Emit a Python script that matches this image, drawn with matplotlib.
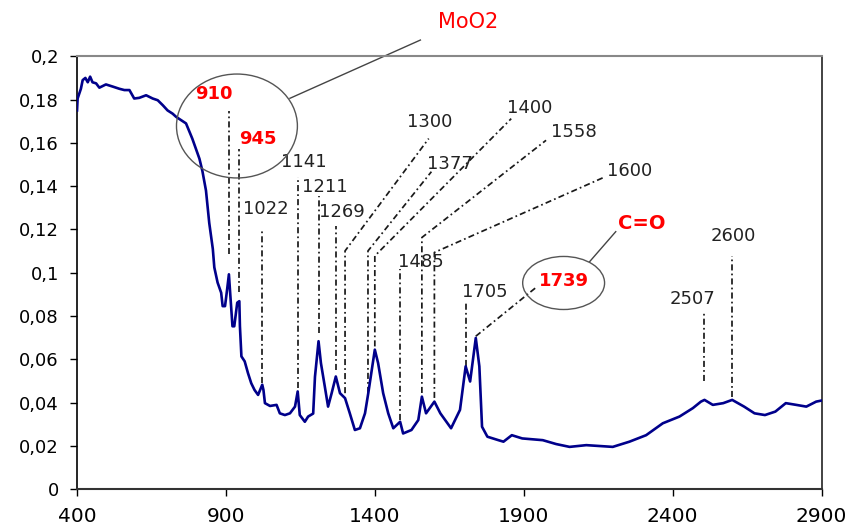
import numpy as np
import matplotlib
matplotlib.use("Agg")
import matplotlib.pyplot as plt
from matplotlib.patches import Ellipse
from matplotlib.ticker import FuncFormatter

# IR spectrum, wavenumber (cm-1) vs absorbance
wavenumber = [400, 402, 413, 419, 428, 436, 444, 452, 464, 475, 497, 520, 542, 559,
              576, 592, 609, 632, 654, 671, 688, 704, 721, 733, 766, 787, 811, 821,
              833, 844, 856, 861, 872, 884, 889, 897, 904, 910, 915, 922, 928, 938,
              945, 947, 952, 963, 974, 985, 996, 1008, 1022, 1026, 1031, 1048, 1070,
              1081, 1098, 1115, 1132, 1141, 1148, 1165, 1176, 1193, 1199, 1211, 1219,
              1232, 1243, 1255, 1269, 1283, 1300, 1316, 1333, 1350, 1367, 1378, 1400,
              1411, 1428, 1445, 1462, 1485, 1495, 1523, 1546, 1558, 1572, 1600, 1620,
              1656, 1686, 1705, 1720, 1739, 1751, 1760, 1778, 1815, 1832, 1860, 1895,
              1964, 2009, 2054, 2110, 2199, 2255, 2311, 2367, 2423, 2468, 2495, 2507,
              2535, 2570, 2600, 2640, 2675, 2710, 2745, 2780, 2815, 2849, 2882, 2900]
absorbance = [0.175, 0.1805, 0.185, 0.189, 0.19, 0.188, 0.1906, 0.188, 0.1875, 0.1855,
              0.187, 0.186, 0.185, 0.1844, 0.1844, 0.1805, 0.1808, 0.182, 0.1805, 0.1797,
              0.1774, 0.175, 0.1735, 0.172, 0.169, 0.162, 0.1527, 0.147, 0.138, 0.123,
              0.111, 0.1025, 0.0955, 0.0908, 0.0846, 0.0846, 0.0923, 0.0993, 0.0892,
              0.0753, 0.0753, 0.0862, 0.0869, 0.0753, 0.0614, 0.0591, 0.0537, 0.049,
              0.0459, 0.0436, 0.0483, 0.0459, 0.0398, 0.0385, 0.039, 0.0351, 0.0343,
              0.0351, 0.0382, 0.0452, 0.0343, 0.0312, 0.0336, 0.035, 0.052, 0.0684,
              0.0583, 0.0475, 0.0382, 0.0444, 0.0521, 0.0444, 0.0421, 0.0351, 0.0274,
              0.0282, 0.0351, 0.0444, 0.0645, 0.0583, 0.0444, 0.0351, 0.0282, 0.0312,
              0.0258, 0.0274, 0.032, 0.0428, 0.0351, 0.0405, 0.0351, 0.0282, 0.0367,
              0.0568, 0.0498, 0.0699, 0.0568, 0.0289, 0.0243, 0.0227, 0.022, 0.025,
              0.0235, 0.0227, 0.0209, 0.0196, 0.0204, 0.0196, 0.022, 0.025, 0.0305,
              0.0336, 0.0375, 0.0405, 0.0413, 0.039, 0.0398, 0.0413, 0.0382, 0.0351,
              0.0343, 0.0359, 0.0398, 0.039, 0.0382, 0.0405, 0.041]

x_ticks = [400, 900, 1400, 1900, 2400, 2900]
y_ticks = [0, 0.02, 0.04, 0.06, 0.08, 0.1, 0.12, 0.14, 0.16, 0.18, 0.2]

# straight leaders: band, line bottom, line top, label x, label y, red?
straight_peaks = [
    (910, 0.1086, 0.1745, 858, 0.1828, True),
    (945, 0.0910, 0.1573, 1006, 0.1620, True),
    (1022, 0.0492, 0.1194, 1033, 0.1295, False),
    (1141, 0.0469, 0.1443, 1163, 0.1513, False),
    (1211, 0.0724, 0.1356, 1233, 0.1397, False),
    (1269, 0.0552, 0.1217, 1288, 0.1280, False),
    (1485, 0.0320, 0.1016, 1556, 0.1049, False),
    (1705, 0.0568, 0.0863, 1769, 0.0910, False),
    (2507, 0.0498, 0.0817, 2468, 0.0877, False),
    (2600, 0.0428, 0.1078, 2603, 0.1169, False),
]
# bent leaders: band, line bottom, knee y, end x, end y, label x, label y, red?
bent_peaks = [
    (1300, 0.0444, 0.1101, 1581, 0.1620, 1583, 0.1698, False),
    (1377, 0.0445, 0.1101, 1590, 0.1467, 1651, 0.1503, False),
    (1400, 0.0660, 0.1078, 1858, 0.1712, 1919, 0.1759, False),
    (1558, 0.0445, 0.1163, 1975, 0.1612, 2069, 0.1652, False),
    (1600, 0.0422, 0.1094, 2171, 0.1442, 2255, 0.1471, False),
    (1739, 0.0707, 0.0707, 1942, 0.0933, 2036, 0.0961, True),
]

plt.rcParams['font.family'] = ['DejaVu Sans']

fig = plt.figure(figsize=(8.53, 5.31), dpi=100)
ax = fig.add_axes([0.0903, 0.0785, 0.8728, 0.8155])

ax.plot(wavenumber, absorbance, color='#00008b', lw=1.9, zorder=3)

ax.set_xlim(400, 2900)
ax.set_ylim(0, 0.2)
ax.set_xticks(x_ticks)
ax.set_yticks(y_ticks)
ax.yaxis.set_major_formatter(FuncFormatter(lambda v, p: f"{v:g}".replace('.', ',')))
ax.tick_params(axis='y', direction='out', length=5, width=1, pad=8, labelsize=13)
ax.tick_params(axis='x', direction='out', length=5, width=1, pad=8, labelsize=14.5)

ax.spines['left'].set_color('black')
ax.spines['left'].set_linewidth(1.2)
ax.spines['bottom'].set_color('#333333')
ax.spines['bottom'].set_linewidth(1.5)
ax.spines['top'].set_color('#888888')
ax.spines['top'].set_linewidth(1.5)
ax.spines['right'].set_color('#222222')
ax.spines['right'].set_linewidth(1.2)

dash = (0, (3.5, 1.8, 1.0, 1.8))
lead_col = '#1a1a1a'


def label(x, y, s, red):
    if red:
        ax.text(x, y, s, color='#ff0000', fontsize=13, fontweight='bold',
                ha='center', va='center')
    else:
        ax.text(x, y, s, color='#222222', fontsize=13, ha='center', va='center')


for band, y0, y1, tx, ty, red in straight_peaks:
    ax.plot([band, band], [y0, y1], color=lead_col, lw=1.25, linestyle=dash, zorder=2)
    label(tx, ty, str(band), red)

for band, y0, yk, ex, ey, tx, ty, red in bent_peaks:
    ax.plot([band, band, ex], [y0, yk, ey], color=lead_col, lw=1.25,
            linestyle=dash, zorder=2)
    label(tx, ty, str(band), red)

# circled groups with their assignment
ax.add_patch(Ellipse((937, 0.1678), 406, 0.048, fill=False,
                     edgecolor='#555555', lw=1.0, zorder=4))
ax.add_patch(Ellipse((2034, 0.0953), 275, 0.0245, fill=False,
                     edgecolor='#555555', lw=1.0, zorder=4))
ax.plot([1115, 1553], [0.1806, 0.2075], color='#444444', lw=1.0, clip_on=False)
ax.text(1712, 0.216, 'MoO2', color='#ff0000', fontsize=15, ha='center', va='center')
ax.plot([2121, 2209], [0.1051, 0.119], color='#444444', lw=1.0)
ax.text(2296, 0.123, 'C=O', color='#ff0000', fontsize=14, fontweight='bold',
        ha='center', va='center')

fig.savefig('out.png', dpi=100)
